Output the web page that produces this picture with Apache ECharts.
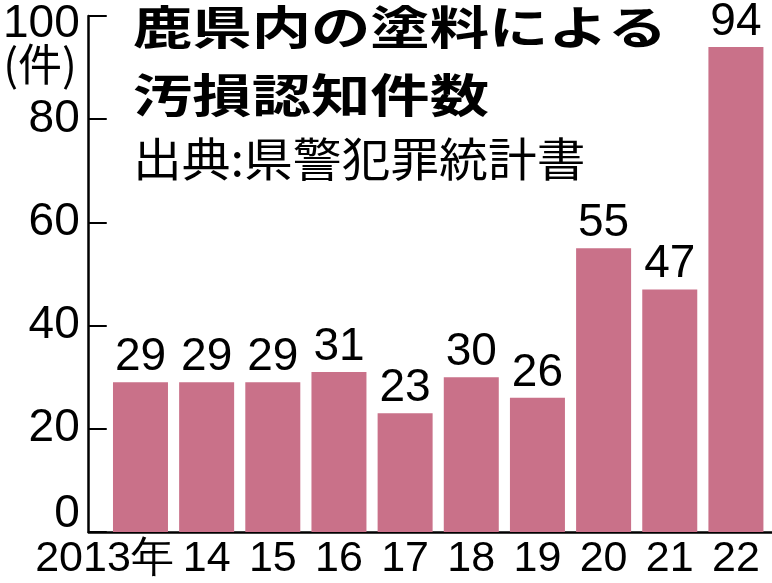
<!DOCTYPE html>
<html><head><meta charset="utf-8">
<script src="https://cdn.jsdelivr.net/npm/echarts@6/dist/echarts.min.js"></script>
<style>html,body{margin:0;padding:0;background:#fff}#c{width:772px;height:583px}</style>
</head><body><div id="c"></div>
<script>
const categories = ['2013年', '14', '15', '16', '17', '18', '19', '20', '21', '22'];
const counts = [29, 29, 29, 31, 23, 30, 26, 55, 47, 94];
const yTicks = [0, 20, 40, 60, 80, 100];
const titleLine1 = '鹿県内の塗料による';
const titleLine2 = '汚損認知件数';
const sourceText = '出典:県警犯罪統計書';
const unitText = '(件)';

const NUM = '"Liberation Sans", Arial, sans-serif';
const JP = '"Noto Sans CJK JP", sans-serif';
const BAR = '#c97189';

const chart = echarts.init(document.getElementById('c'), null, {renderer: 'canvas'});
const catData = categories.map((c, i) => i === 0
  ? {value: c, textStyle: {padding: [0, 72, 0, 0]}}
  : c);
const yMin = yTicks[0], yMax = yTicks[yTicks.length - 1];

chart.setOption({
  animation: false,
  backgroundColor: '#fff',
  grid: [
    {left: 87, right: 0, top: 16, bottom: 51},
    {left: 107.4, right: 3, top: 16, bottom: 51}
  ],
  xAxis: [
    {gridIndex: 0, type: 'value', min: 0, max: 1,
     axisLine: {show: true, lineStyle: {color: '#000', width: 2.5}},
     axisTick: {show: false}, axisLabel: {show: false}, splitLine: {show: false}},
    {gridIndex: 1, type: 'category', data: catData,
     axisLine: {show: false}, axisTick: {show: false},
     axisLabel: {color: '#000', fontSize: 43, fontFamily: NUM, margin: 6, interval: 0}}
  ],
  yAxis: [
    {gridIndex: 0, type: 'value', min: yMin, max: yMax, interval: 20,
     axisLine: {show: true, lineStyle: {color: '#000', width: 2.5}},
     axisTick: {show: true, inside: true, length: 18, lineStyle: {color: '#000', width: 2}},
     axisLabel: {color: '#000', fontSize: 46, fontFamily: NUM, margin: 9,
       formatter: v => v === yMin ? '{lo|' + v + '}' : (v === yMax ? '{hi|' + v + '}' : '{n|' + v + '}'),
       rich: {
         n: {fontSize: 46, fontFamily: NUM, color: '#000'},
         lo: {fontSize: 46, fontFamily: NUM, color: '#000', padding: [0, 0, 36, 0]},
         hi: {fontSize: 46, fontFamily: NUM, color: '#000', padding: [16, 0, 0, 0]}
       }},
     splitLine: {show: false}},
    {gridIndex: 1, type: 'value', min: yMin, max: yMax, show: false, splitLine: {show: false}}
  ],
  series: [{
    type: 'bar', xAxisIndex: 1, yAxisIndex: 1,
    data: counts, barWidth: 55,
    itemStyle: {color: BAR},
    label: {show: true, position: 'top', distance: 2, color: '#000',
            fontSize: 46, fontFamily: NUM}
  }],
  graphic: [
    {type: 'text', x: 133, y: 4, scaleX: 1.29,
     style: {text: titleLine1, font: 'bold 46px ' + JP, fill: '#000'}},
    {type: 'text', x: 133, y: 72, scaleX: 1.29,
     style: {text: titleLine2, font: 'bold 46px ' + JP, fill: '#000'}},
    {type: 'text', x: 133, y: 136, scaleX: 1.06,
     style: {text: sourceText, font: '46px ' + JP, fill: '#000'}},
    {type: 'text', x: 40, y: 42,
     style: {text: unitText, font: '44px ' + JP, fill: '#000', textAlign: 'center'}}
  ]
});
</script></body></html>
